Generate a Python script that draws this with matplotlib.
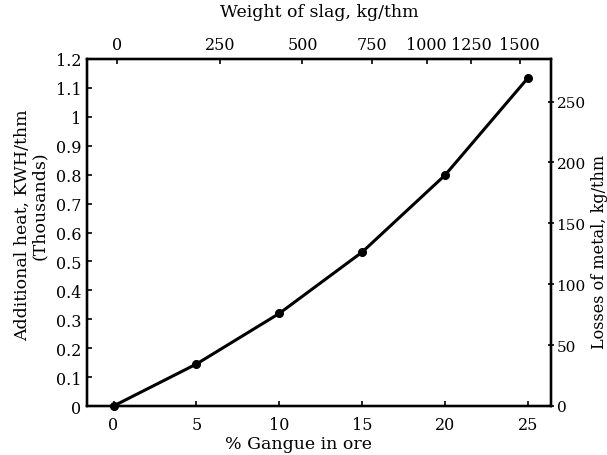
import matplotlib

matplotlib.use("Agg")
import matplotlib.pyplot as plt

# % gangue in ore vs additional heat (thousands of KWH/thm)
gangue_pct = [0, 5, 10, 15, 20, 25]
extra_heat = [0.0, 0.145, 0.32, 0.532, 0.798, 1.134]

# left axis ticks
heat_ticks = [0, 0.1, 0.2, 0.3, 0.4, 0.5, 0.6, 0.7, 0.8, 0.9, 1.0, 1.1, 1.2]
heat_tick_labels = ["0", "0.1", "0.2", "0.3", "0.4", "0.5", "0.6", "0.7", "0.8", "0.9", "1", "1.1", "1.2"]

# right axis: losses of metal, kg/thm
loss_ticks = [0, 50, 100, 150, 200, 250]
loss_max = 285

# top axis: weight of slag, kg/thm (non-linear against % gangue)
slag_ticks = ["0", "250", "500", "750", "1000", "1250", "1500"]
slag_tick_pos = [0.2, 6.45, 11.4, 15.6, 18.9, 21.6, 24.5]

gangue_ticks = [0, 5, 10, 15, 20, 25]

plt.rcParams.update(
    {
        "font.family": "DejaVu Serif",
        "font.size": 11.5,
        "axes.linewidth": 1.6,
        "xtick.direction": "in",
        "ytick.direction": "in",
        "xtick.major.size": 3.5,
        "ytick.major.size": 3.5,
        "xtick.major.width": 1.2,
        "ytick.major.width": 1.2,
    }
)

fig = plt.figure(figsize=(6.07, 4.56), dpi=100)
ax = fig.add_axes([87 / 607, 1 - 407 / 456, 464 / 607, 347 / 456])

ax.plot(gangue_pct, extra_heat, color="black", linewidth=2.2, marker="o", markersize=5.5, zorder=3, clip_on=False)

ax.set_xlim(-1.6, 26.4)
ax.set_ylim(0, 1.2)
ax.set_xticks(gangue_ticks)
ax.set_yticks(heat_ticks)
ax.set_yticklabels(heat_tick_labels)
ax.tick_params(axis="x", pad=7)
ax.tick_params(axis="y", pad=4)
ax.set_xlabel("% Gangue in ore", fontsize=12.5)
ax.xaxis.set_label_coords(0.455, -0.085)

axr = ax.twinx()
axr.set_ylim(0, loss_max)
axr.set_yticks(loss_ticks)
axr.tick_params(axis="y", direction="inout", length=4, pad=2, labelsize=11)

axt = ax.twiny()
axt.set_xlim(ax.get_xlim())
axt.set_xticks(slag_tick_pos)
axt.set_xticklabels(slag_ticks)
axt.tick_params(axis="x", pad=4)
axt.set_xlabel("Weight of slag, kg/thm", fontsize=12.5)
axt.xaxis.set_label_coords(0.5, 1.125)

fig.text(22 / 607, 1 - 225 / 456, "Additional heat, KWH/thm", rotation=90,
         ha="center", va="center", fontsize=12.5)
fig.text(40 / 607, 1 - 206 / 456, "(Thousands)", rotation=90,
         ha="center", va="center", fontsize=12.5)
fig.text(599 / 607, 1 - 252 / 456, "Losses of metal, kg/thm", rotation=90,
         ha="center", va="center", fontsize=11.5)

fig.savefig("out.png", dpi=100, facecolor="white")
